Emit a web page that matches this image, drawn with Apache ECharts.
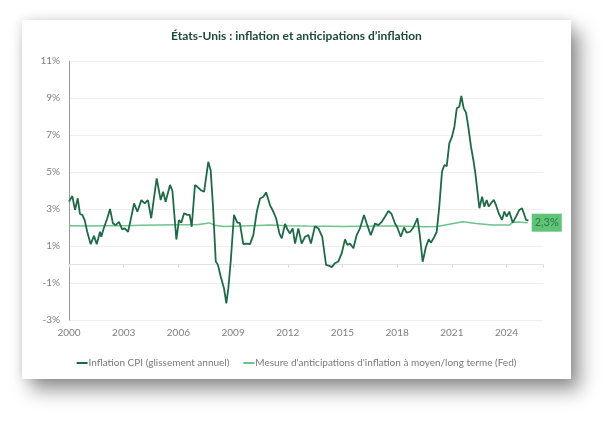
<!DOCTYPE html>
<html>
<head>
<meta charset="utf-8">
<script src="https://cdn.jsdelivr.net/npm/echarts@6/dist/echarts.min.js"></script>
<style>
  html, body { margin: 0; padding: 0; background: #fff; width: 613px; height: 421px; overflow: hidden; }
  .card {
    position: absolute; left: 22px; top: 20px; width: 549px; height: 359px;
    background: #fff;
    box-shadow: 9px 11px 18px rgba(0,0,0,0.42), 0 0 10px rgba(0,0,0,0.12);
  }
  #chart { width: 549px; height: 359px; }
</style>
</head>
<body>
<div class="card"><div id="chart"></div></div>
<script>
  // noms des séries
  const seriesNames = ['Inflation CPI (glissement annuel)', "Mesure d'anticipations d'inflation à moyen/long terme (Fed)"];

  // inflation CPI, [année (axe), %]
  const cpiPoints = [
    [2000.00,3.4],[2000.05,3.4],[2000.18,3.7],[2000.33,2.95],[2000.48,3.58],[2000.60,2.73],[2000.73,2.68],[2000.86,2.4],
    [2001.00,1.77],[2001.19,1.1],[2001.37,1.55],[2001.52,1.1],[2001.70,1.77],[2001.77,1.5],[2001.92,2.0],
    [2002.10,2.5],[2002.25,3.0],[2002.41,2.22],[2002.56,2.13],[2002.74,2.3],[2002.92,1.9],
    [2003.06,1.95],[2003.24,1.77],[2003.38,2.4],[2003.57,3.3],[2003.75,2.85],[2003.97,3.48],
    [2004.15,3.3],[2004.33,3.48],[2004.51,2.5],[2004.62,3.3],[2004.81,4.66],
    [2005.03,3.48],[2005.16,3.93],[2005.30,3.39],[2005.54,4.3],[2005.67,4.0],[2005.89,1.35],
    [2006.03,2.4],[2006.16,2.26],[2006.31,2.77],[2006.49,2.68],[2006.62,2.68],[2006.73,2.04],[2006.91,4.3],
    [2007.04,4.2],[2007.13,4.3],[2007.26,4.0],[2007.41,3.93],[2007.64,5.55],[2007.77,5.1],[2007.90,3.13],
    [2008.05,0.16],[2008.17,-0.02],[2008.32,-0.65],[2008.50,-1.28],[2008.63,-2.1],[2008.74,-1.28],[2008.87,0.16],
    [2009.05,2.68],[2009.23,2.26],[2009.37,2.25],[2009.56,1.1],[2009.75,1.13],[2009.93,1.1],
    [2010.11,1.59],[2010.30,2.85],[2010.48,3.57],[2010.66,3.66],[2010.81,3.9],
    [2011.03,3.2],[2011.21,2.85],[2011.36,2.5],[2011.54,1.68],[2011.67,1.41],[2011.85,2.19],
    [2012.00,1.86],[2012.12,1.68],[2012.27,1.95],[2012.40,1.13],[2012.58,1.95],[2012.76,1.13],[2012.95,1.5],
    [2013.13,1.59],[2013.27,1.13],[2013.49,2.07],[2013.68,1.95],[2013.89,1.5],
    [2014.10,-0.02],[2014.28,-0.07],[2014.41,-0.14],[2014.59,0.07],[2014.77,0.16],[2014.96,0.61],
    [2015.14,1.36],[2015.27,1.06],[2015.41,1.14],[2015.60,0.88],[2015.78,1.59],[2015.96,1.95],
    [2016.18,2.68],[2016.33,2.22],[2016.55,1.59],[2016.79,2.22],[2016.97,2.13],
    [2017.15,2.3],[2017.33,2.58],[2017.52,2.9],[2017.70,2.72],[2017.88,2.22],
    [2018.01,2.0],[2018.20,1.5],[2018.38,2.0],[2018.52,1.72],[2018.71,1.77],[2018.89,2.0],
    [2019.11,2.5],[2019.24,1.6],[2019.40,0.15],[2019.58,0.96],[2019.73,1.36],[2019.86,1.18],
    [2020.04,1.5],[2020.17,1.77],[2020.31,3.13],[2020.46,5.02],[2020.59,5.38],[2020.72,5.32],[2020.86,6.55],
    [2021.01,6.91],[2021.14,7.45],[2021.27,8.44],[2021.35,8.35],[2021.41,8.53],[2021.52,9.11],[2021.65,8.44],[2021.78,8.21],[2021.90,7.45],
    [2022.05,6.37],[2022.18,5.65],[2022.29,4.93],[2022.51,3.04],[2022.66,3.67],[2022.78,3.13],[2022.91,3.49],
    [2023.02,3.13],[2023.15,3.31],[2023.30,3.49],[2023.42,3.22],[2023.57,2.77],[2023.75,2.41],[2023.88,2.86],
    [2024.01,2.59],[2024.15,2.86],[2024.34,2.26],[2024.52,2.59],[2024.70,2.95],[2024.85,3.04],[2024.98,2.68],
    [2025.07,2.41],[2025.20,2.37]
  ];

  // anticipations d'inflation (Fed), [année (axe), %]
  const expPoints = [
    [2000.00,2.1],[2001.00,2.08],[2002.00,2.1],[2003.00,2.1],[2004.00,2.12],[2005.00,2.14],[2006.00,2.15],
    [2007.00,2.15],[2007.50,2.22],[2007.70,2.25],[2008.00,2.12],[2008.50,2.05],[2009.00,2.07],[2010.00,2.1],
    [2011.00,2.13],[2012.00,2.1],[2013.00,2.08],[2014.00,2.07],[2015.00,2.06],[2016.00,2.07],[2017.00,2.08],
    [2018.00,2.08],[2019.00,2.06],[2019.50,2.04],[2020.20,2.05],[2020.86,2.18],[2021.60,2.31],[2022.33,2.22],
    [2023.24,2.13],[2024.15,2.13],[2024.34,2.28],[2024.60,2.3],[2025.16,2.26]
  ];

  const lastExpLabel = '2,3%';

  const chart = echarts.init(document.getElementById('chart'));
  chart.setOption({
    animation: false,
    textStyle: { fontFamily: 'Lato' },
    title: {
      text: 'États-Unis : inflation et anticipations d\u2019inflation',
      left: 'center',
      top: 5,
      textStyle: { fontSize: 12, fontWeight: 'bold', color: '#1d4a34', fontFamily: 'Lato' }
    },
    legend: {
      bottom: 6,
      left: 'center',
      icon: 'rect',
      itemWidth: 11,
      itemHeight: 2,
      itemGap: 14,
      textStyle: { fontSize: 10, color: '#7a7a7a', padding: [0, 0, 0, -4] },
      data: seriesNames
    },
    grid: { left: 47, top: 41, right: 28, bottom: 59 },
    xAxis: [{
      type: 'value',
      min: 2000, max: 2026, interval: 3,
      axisLine: { show: false, onZero: false },
      axisTick: { show: false },
      splitLine: { show: false },
      axisLabel: { color: '#808080', fontSize: 10, margin: 8, showMaxLabel: false, formatter: v => String(v) }
    }, {
      type: 'value',
      position: 'bottom',
      min: 2000, max: 2026, interval: 3,
      axisLine: { show: true, onZero: true, lineStyle: { color: '#e2e2e2' } },
      axisTick: { show: true, length: 3, lineStyle: { color: '#d8d8d8' } },
      axisLabel: { show: false },
      splitLine: { show: false }
    }],
    yAxis: {
      type: 'value',
      min: -3, max: 11, interval: 2,
      axisLine: { show: true, lineStyle: { color: '#9a9a9a' } },
      axisTick: { show: false },
      splitLine: { lineStyle: { color: '#efefef' } },
      axisLabel: { color: '#808080', fontSize: 10, margin: 9, formatter: '{value}%' }
    },
    series: [{
      name: seriesNames[0],
      type: 'line',
      data: cpiPoints,
      showSymbol: false,
      color: '#1e6a47',
      lineStyle: { width: 1.8, color: '#1e6a47' },
      z: 3
    }, {
      name: seriesNames[1],
      type: 'line',
      data: expPoints,
      showSymbol: false,
      color: '#6cc489',
      lineStyle: { width: 1.5, color: '#6cc489' },
      z: 2,
      endLabel: {
        show: true,
        formatter: lastExpLabel,
        distance: 4,
        backgroundColor: '#5fc477',
        color: '#2f7a4c',
        fontSize: 11,
        padding: [4, 3, 3, 3]
      }
    }]
  });
</script>
</body>
</html>
